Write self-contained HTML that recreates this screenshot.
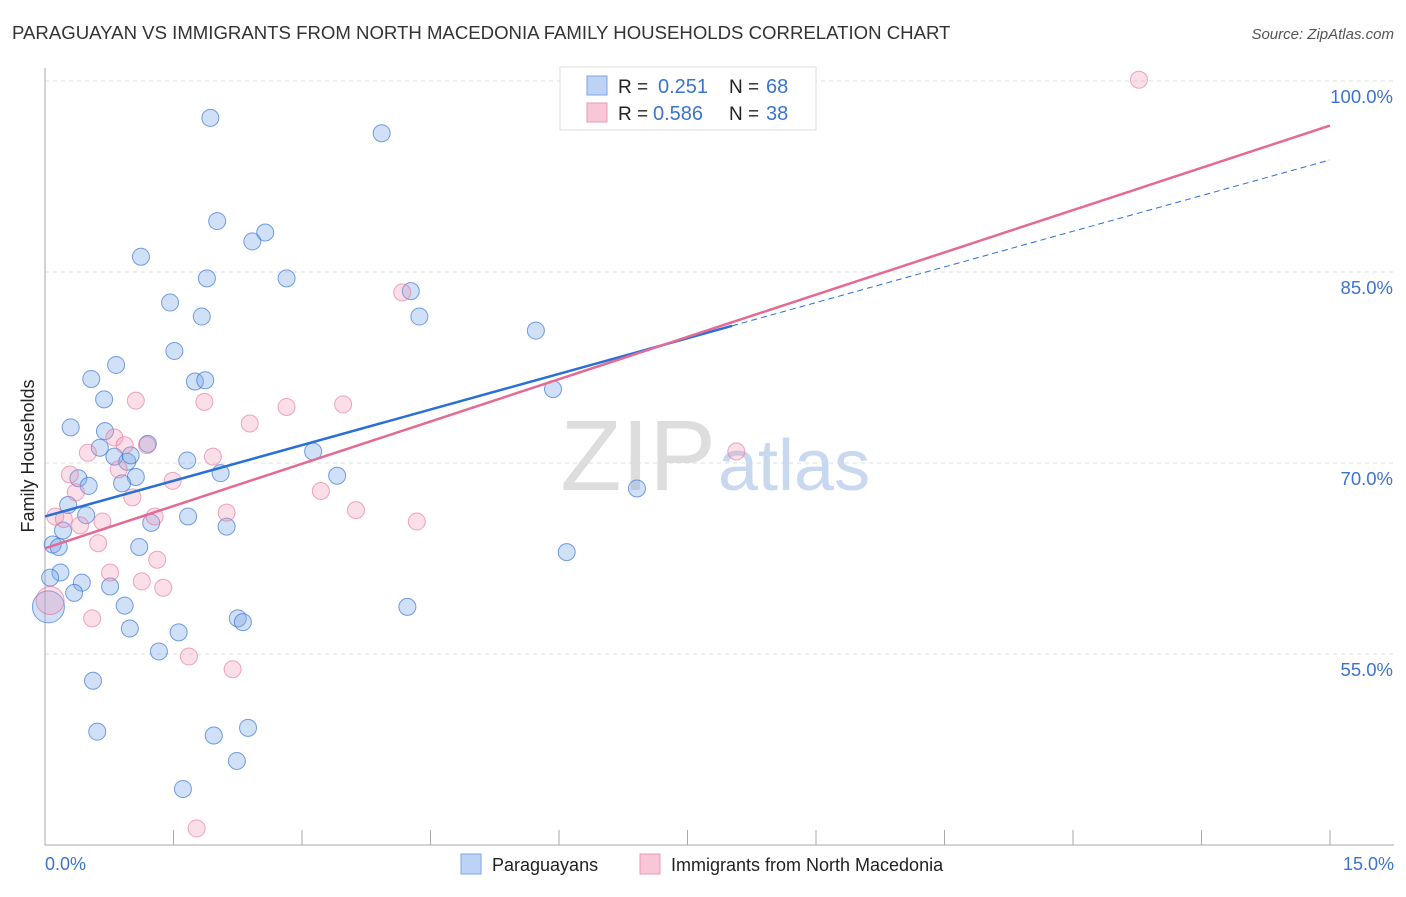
<!DOCTYPE html>
<html><head><meta charset="utf-8"><style>
body{margin:0;background:#fff;font-family:"Liberation Sans",sans-serif}
svg text{font-family:"Liberation Sans",sans-serif}
</style></head><body>
<svg width="1406" height="892">
<text x="12" y="39" font-size="18.6" fill="#333">PARAGUAYAN VS IMMIGRANTS FROM NORTH MACEDONIA FAMILY HOUSEHOLDS CORRELATION CHART</text>
<text x="1394" y="39" font-size="15" fill="#555" font-style="italic" text-anchor="end">Source: ZipAtlas.com</text>
<g id="grid"></g>
<text x="716" y="490" font-size="100" font-family="Liberation Serif" fill="#ddd" text-anchor="end">ZIP</text>
<text x="718" y="490" font-size="72" fill="#c8d8ef">atlas</text>
<g id="pts"></g>
<g id="lines"></g>
<text transform="translate(34,456) rotate(-90)" font-size="18" fill="#222" text-anchor="middle">Family Households</text>
<text x="45" y="870" font-size="18" fill="#3b73d1">0.0%</text>
<text x="1394" y="870" font-size="18" fill="#3b73d1" text-anchor="end">15.0%</text>
<g>
<rect x="560" y="67" width="256" height="63" fill="#fff" stroke="#ddd"/>
<rect x="587" y="76" width="20" height="19" fill="#bcd3f5" stroke="#7ea5e3"/>
<rect x="587" y="103" width="20" height="19" fill="#f8c6d6" stroke="#ea9ab4"/>
<text x="618" y="93" font-size="19" fill="#222">R =</text>
<text x="658" y="93" font-size="20" fill="#3b73d1">0.251</text>
<text x="729" y="93" font-size="19" fill="#222">N =</text>
<text x="766" y="93" font-size="20" fill="#3b73d1">68</text>
<text x="618" y="120" font-size="19" fill="#222">R =</text>
<text x="653" y="120" font-size="20" fill="#3b73d1">0.586</text>
<text x="729" y="120" font-size="19" fill="#222">N =</text>
<text x="766" y="120" font-size="20" fill="#3b73d1">38</text>
</g>
<g>
<rect x="461" y="854" width="20" height="20" fill="#bcd3f5" stroke="#7ea5e3"/>
<text x="492" y="871" font-size="18" fill="#222">Paraguayans</text>
<rect x="640" y="854" width="20" height="20" fill="#f8c6d6" stroke="#ea9ab4"/>
<text x="671" y="871" font-size="18" fill="#222">Immigrants from North Macedonia</text>
</g>
</svg>
<script>
const yTicks=[55,70,85,100];
const yTickLabels=["55.0%","70.0%","85.0%","100.0%"];
const blueX=[1.93,3.93,2.01,2.57,2.42,1.12,1.89,2.82,1.46,4.27,1.83,4.37,5.73,1.51,0.83,0.54,1.75,1.87,5.93,0.69,0.30,1.20,0.70,0.64,3.13,0.81,0.96,1.00,1.66,2.05,0.39,1.06,0.51,3.41,0.90,6.91,0.27,0.48,1.67,1.24,2.12,0.21,0.09,0.16,1.10,6.09,0.18,0.06,0.43,0.76,0.34,0.93,4.23,2.25,2.31,0.99,1.56,1.33,0.56,0.61,2.37,1.97,2.24,1.61,0.04];
const blueY=[97.1,95.9,89.0,88.1,87.4,86.2,84.5,84.5,82.6,83.5,81.5,81.5,80.4,78.8,77.7,76.6,76.4,76.5,75.8,75.0,72.8,71.5,72.5,71.2,70.9,70.5,70.1,70.6,70.2,69.2,68.8,68.9,68.2,69.0,68.4,68.0,66.7,65.9,65.8,65.3,65.0,64.7,63.6,63.4,63.4,63.0,61.4,61.0,60.6,60.3,59.8,58.8,58.7,57.8,57.5,57.0,56.7,55.2,52.9,48.9,49.2,48.6,46.6,44.4,58.7];
const pinkX=[12.77,4.17,1.06,1.86,2.82,3.48,2.39,0.81,0.93,0.50,1.19,1.96,0.29,0.86,1.49,0.36,3.22,1.02,0.12,0.22,0.67,1.28,2.12,3.63,4.34,0.41,0.62,1.31,0.76,1.13,1.38,0.55,1.68,2.19,1.77,8.07,0.06];
const pinkY=[100.1,83.4,74.9,74.8,74.4,74.6,73.1,72.0,71.4,70.8,71.4,70.5,69.1,69.5,68.6,67.7,67.8,67.3,65.8,65.6,65.4,65.8,66.1,66.3,65.4,65.1,63.7,62.4,61.4,60.7,60.2,57.8,54.8,53.8,41.3,70.9,59.2];
const blueTrend=[65.8,93.8], pinkTrend=[63.3,96.5], blueSolidEnd=8.02;
const NS='http://www.w3.org/2000/svg';
const X=v=>45+v/15*1285, Y=v=>81+(100-v)*12.733;
function mk(t,a,p){const e=document.createElementNS(NS,t);for(const k in a)e.setAttribute(k,a[k]);p.appendChild(e);return e;}
const grid=document.getElementById('grid');
yTicks.forEach((t,i)=>{
 const l=mk('line',{x1:45,x2:1394,y1:Y(t),y2:Y(t),stroke:'#ddd','stroke-dasharray':'4,4'},grid);
 
 
 const tx=mk('text',{x:1393,y:Y(t)+22,'font-size':18.5,fill:'#3b73d1','text-anchor':'end'},grid);
 tx.textContent=yTickLabels[i];
 
 
});
mk('line',{x1:45,x2:45,y1:68,y2:845,stroke:'#aaa'},grid);
mk('line',{x1:45,x2:1394,y1:845,y2:845,stroke:'#aaa'},grid);
for(let i=1;i<=10;i++){const t=mk('line',{x1:X(i*1.5),x2:X(i*1.5),y1:830,y2:845,stroke:'#aaa'},grid);
 
 }
const pts=document.getElementById('pts');
blueX.forEach((x,i)=>{const r=i==blueX.length-1?16:8.5;
 const c=mk('circle',{cx:X(x),cy:Y(blueY[i]),r:r,fill:'rgba(120,165,230,0.35)',stroke:'rgba(60,120,215,0.7)','stroke-width':1},pts);
 
 });
pinkX.forEach((x,i)=>{const r=i==pinkX.length-1?14:8.5;
 const c=mk('circle',{cx:X(x),cy:Y(pinkY[i]),r:r,fill:'rgba(240,150,180,0.3)',stroke:'rgba(230,110,150,0.6)','stroke-width':1},pts);
 
 });
const lines=document.getElementById('lines');
const bAt=x=>blueTrend[0]+(blueTrend[1]-blueTrend[0])*x/15;
let l=mk('line',{x1:X(0),y1:Y(bAt(0)),x2:X(blueSolidEnd),y2:Y(bAt(blueSolidEnd)),stroke:'#2a6fd6','stroke-width':2.5},lines);


l=mk('line',{x1:X(blueSolidEnd),y1:Y(bAt(blueSolidEnd)),x2:X(15),y2:Y(bAt(15)),stroke:'#2a6fd6','stroke-width':1,'stroke-dasharray':'6,4'},lines);


l=mk('line',{x1:X(0),y1:Y(pinkTrend[0]),x2:X(15),y2:Y(pinkTrend[1]),stroke:'#e56a93','stroke-width':2.5},lines);


</script>
</body></html>
